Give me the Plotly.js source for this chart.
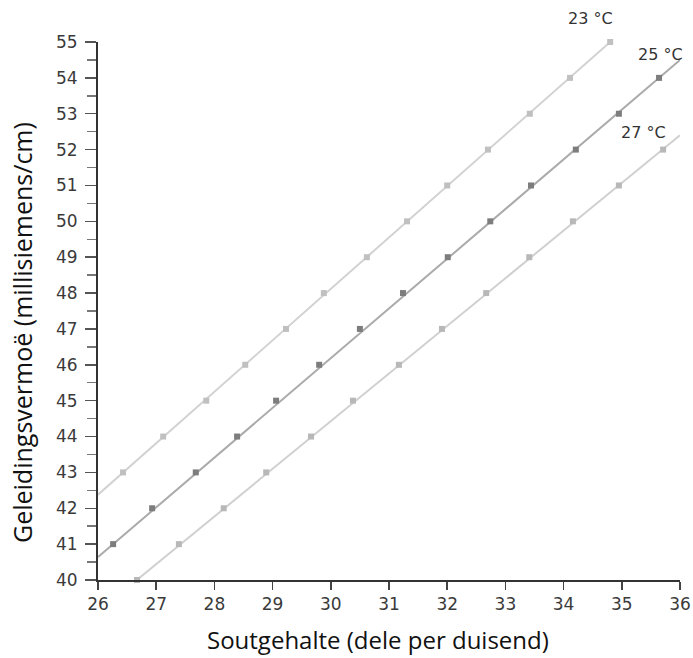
<!DOCTYPE html>
<html>
<head>
<meta charset="utf-8">
<script src="https://cdn.plot.ly/plotly-3.0.1.min.js"></script>
<style>html,body{margin:0;padding:0;background:#fff;}#chart{width:693px;height:658px;}</style>
</head>
<body>
<div id="chart"></div>
<script>
// Salinity (ppt) at integer conductivity values, per temperature
const cond23 = [43,44,45,46,47,48,49,50,51,52,53,54,55];
const sal23  = [26.43,27.12,27.86,28.53,29.23,29.88,30.62,31.31,32.0,32.70,33.42,34.11,34.80];
const cond25 = [41,42,43,44,45,46,47,48,49,50,51,52,53,54];
const sal25  = [26.26,26.93,27.68,28.39,29.06,29.80,30.50,31.24,32.01,32.74,33.44,34.21,34.95,35.64];
const cond27 = [40,41,42,43,44,45,46,47,48,49,50,51,52];
const sal27  = [26.67,27.39,28.16,28.89,29.66,30.38,31.17,31.91,32.67,33.41,34.16,34.95,35.71];
// line extents (drawn lines reach the axes)
const line23x = [26, 34.80], line23y = [42.38, 55];
const line25x = [26, 36], line25y = [40.64, 54.5];
const line27x = [26.63, 36], line27y = [39.95, 52.4];
const labels = ["23 °C","25 °C","27 °C"];
const xTitle = 'Soutgehalte (dele per duisend)';
const yTitle = 'Geleidingsvermoë (millisiemens/cm)';
const xTicks = [26,27,28,29,30,31,32,33,34,35,36];
const yTicks = [40,41,42,43,44,45,46,47,48,49,50,51,52,53,54,55];

const lineStyle = (c,w)=>({color:c,width:w});
const data = [
  {x:line23x,y:line23y,mode:'lines',line:lineStyle('#d2d2d2',2),hoverinfo:'skip',cliponaxis:false},
  {x:line25x,y:line25y,mode:'lines',line:lineStyle('#aaaaaa',2),hoverinfo:'skip',cliponaxis:false},
  {x:line27x,y:line27y,mode:'lines',line:lineStyle('#d0d0d0',2),hoverinfo:'skip',cliponaxis:false},
  {x:sal23,y:cond23,mode:'markers',marker:{symbol:'square',size:6,color:'#c0c0c0'},cliponaxis:false,name:labels[0]},
  {x:sal25,y:cond25,mode:'markers',marker:{symbol:'square',size:6,color:'#7d7d7d'},cliponaxis:false,name:labels[1]},
  {x:sal27,y:cond27,mode:'markers',marker:{symbol:'square',size:6,color:'#b8b8b8'},cliponaxis:false,name:labels[2]}
];
const tickFont = {family:'DejaVu Sans, sans-serif',size:17,color:'#3a3a3a'};
const annFont = {family:'DejaVu Sans, sans-serif',size:16,color:'#333'};
const titleFont = (s)=>({family:'Open Sans, sans-serif',size:s,color:'#111'});
const layout = {
  width:693,height:658,
  margin:{l:98,r:13,t:42,b:78},
  showlegend:false,
  paper_bgcolor:'#fff',plot_bgcolor:'#fff',
  xaxis:{range:[26,36],tickvals:xTicks,ticktext:xTicks.map(String),showgrid:false,zeroline:false,
    showline:true,linecolor:'#333',linewidth:2,ticks:'outside',ticklen:8,tickwidth:1.5,tickcolor:'#444',
    tickfont:tickFont},
  yaxis:{range:[40,55],tickvals:yTicks,ticktext:yTicks.map(String),showgrid:false,zeroline:false,
    showline:true,linecolor:'#333',linewidth:2,ticks:'outside',ticklen:11,tickwidth:1.5,tickcolor:'#555',
    ticklabelstandoff:4,
    minor:{dtick:0.5,tick0:40,ticks:'outside',ticklen:9,tickwidth:1.5,tickcolor:'#777',showgrid:false},
    tickfont:tickFont},
  annotations:[
    {x:34.80,y:55,xref:'x',yref:'y',text:labels[0],showarrow:false,xanchor:'center',yanchor:'middle',xshift:-20,yshift:24,font:annFont},
    {x:36,y:54.5,xref:'x',yref:'y',text:labels[1],showarrow:false,xanchor:'right',yanchor:'middle',xshift:5,yshift:5,font:annFont},
    {x:36,y:52.4,xref:'x',yref:'y',text:labels[2],showarrow:false,xanchor:'right',yanchor:'middle',xshift:-12,yshift:3,font:annFont},
    {text:xTitle,xref:'paper',yref:'paper',showarrow:false,xanchor:'center',yanchor:'middle',font:titleFont(24)},
    {text:yTitle,xref:'paper',yref:'paper',showarrow:false,xanchor:'center',yanchor:'middle',textangle:-90,font:titleFont(25)}
  ]
};
// paper coords are relative to the plot area: place titles at their pixel spots
const pw = 693-98-13, ph = 658-42-78;
layout.annotations[3].x = (378-98)/pw; layout.annotations[3].y = (658-78-639)/ph;
layout.annotations[4].x = (22-98)/pw;  layout.annotations[4].y = (658-78-333)/ph;
Plotly.newPlot('chart',data,layout,{displayModeBar:false,staticPlot:true});
</script>
</body>
</html>
